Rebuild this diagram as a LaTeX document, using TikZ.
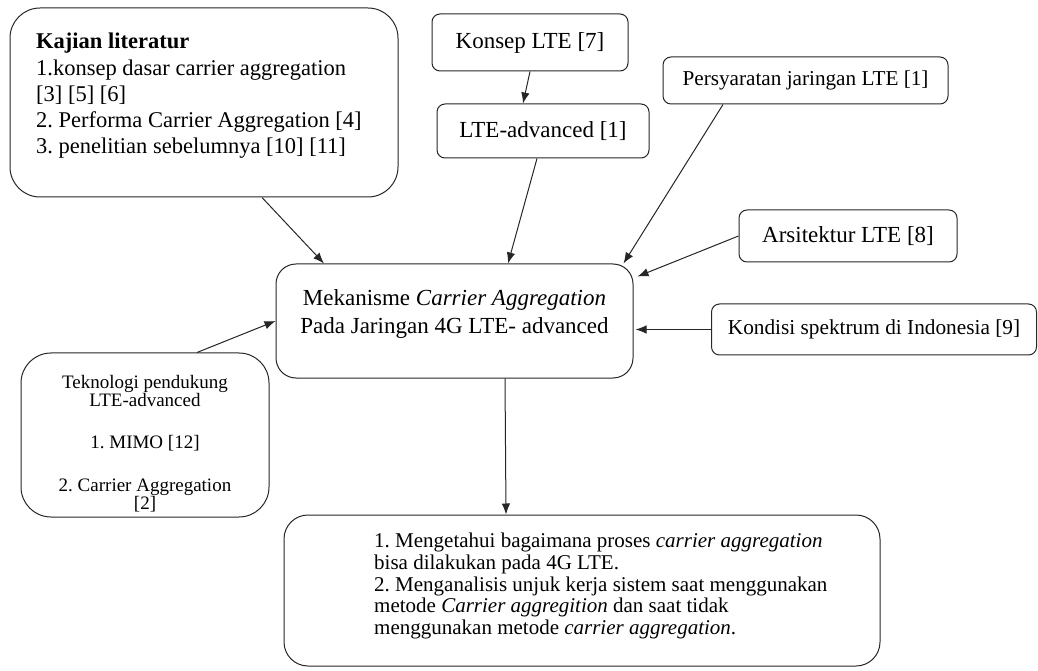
\documentclass[tikz,border=0pt]{standalone}
\usepackage{fontspec}
\setmainfont{Liberation Serif}
\usetikzlibrary{arrows.meta,calc}
\begin{document}
\frenchspacing
\begin{tikzpicture}[x=1pt,y=1pt,
  box/.style={draw=black!85, line width=1pt, rounded corners=8pt, inner sep=0pt, align=center},
  txt/.style={inner sep=0pt},
  arr/.style={-{Latex[length=11pt,width=8.5pt]}, line width=1pt, draw=black!85},
]
\useasboundingbox (0,0) rectangle (1038,670);

% boxes
\node[box, rounded corners=30pt, minimum width=388pt, minimum height=189pt] (kaj) at (204,567.5) {};
\node[box, minimum width=196pt, minimum height=57pt, font=\fontsize{23}{26}\selectfont] (konsep) at (530,627.5) {Konsep LTE [7]};
\node[box, minimum width=212pt, minimum height=54pt, font=\fontsize{23}{26}\selectfont] (ltea) at (543,539) {LTE-advanced [1]};
\node[box, minimum width=285pt, minimum height=47pt, font=\fontsize{21.2}{24}\selectfont] (pers) at (805.5,589.5) {Persyaratan jaringan LTE [1]};
\node[box, minimum width=218pt, minimum height=52pt, font=\fontsize{23}{26}\selectfont] (arsi) at (848,434) {Arsitektur LTE [8]};
\node[box, minimum width=325pt, minimum height=51pt, font=\fontsize{21.3}{24}\selectfont] (kond) at (874,340.5) {Kondisi spektrum di Indonesia [9]};
\node[box, rounded corners=20pt, minimum width=357pt, minimum height=114pt] (mek) at (454.5,349) {};
\node[box, rounded corners=30pt, minimum width=248pt, minimum height=164pt] (tek) at (145,235) {};
\node[box, rounded corners=24pt, minimum width=596pt, minimum height=151pt] (bot) at (582,79.5) {};

% texts
\node[txt, anchor=north west, align=left, font=\fontsize{22.5}{26.2}\selectfont] (kajt) at (36,637)
  {\textbf{Kajian literatur}\\1.konsep dasar carrier aggregation\\[0pt][3] [5] [6]\\2. Performa Carrier Aggregation [4]\\3. penelitian sebelumnya [10] [11]};
\node[txt, align=center, font=\fontsize{23}{28}\selectfont] (mekt) at (454.5,356)
  {Mekanisme \textit{Carrier Aggregation}\\Pada Jaringan 4G LTE- advanced};
\node[txt, anchor=north, align=center, font=\fontsize{19}{18}\selectfont] (tekt) at (145,295)
  {Teknologi pendukung\\LTE-advanced\\[24pt]1. MIMO [12]\\[25pt]2. Carrier Aggregation\\[0pt][2]};
\node[txt, anchor=north west, align=left, font=\fontsize{21}{21.7}\selectfont] (bott) at (374,137)
  {1. Mengetahui bagaimana proses \textit{carrier aggregation}\\bisa dilakukan pada 4G LTE.\\2. Menganalisis unjuk kerja sistem saat menggunakan\\metode \textit{Carrier aggregition} dan saat tidak\\menggunakan metode \textit{carrier aggregation}.};

% connectors
\draw[arr] ([xshift=58pt]kaj.south) -- ([xshift=-130.5pt]mek.north);
\draw[arr] (konsep.south) -- ([xshift=-20pt]ltea.north);
\draw[arr] ([xshift=-6pt]ltea.south) -- ([xshift=53.5pt]mek.north);
\draw[arr] ([xshift=-82.5pt]pers.south) -- ([xshift=-10pt]mek.north east);
\draw[arr] (arsi.west) -- ([xshift=4pt,yshift=-13pt]mek.north east);
\draw[arr] (kond.west) -- ([xshift=2pt]mek.east |- kond.west);
\draw[arr] ([xshift=52pt]tek.north) -- (mek.west);
\draw[arr] ([xshift=50.5pt]mek.south) -- ([xshift=-76pt]bot.north);
\end{tikzpicture}
\end{document}
